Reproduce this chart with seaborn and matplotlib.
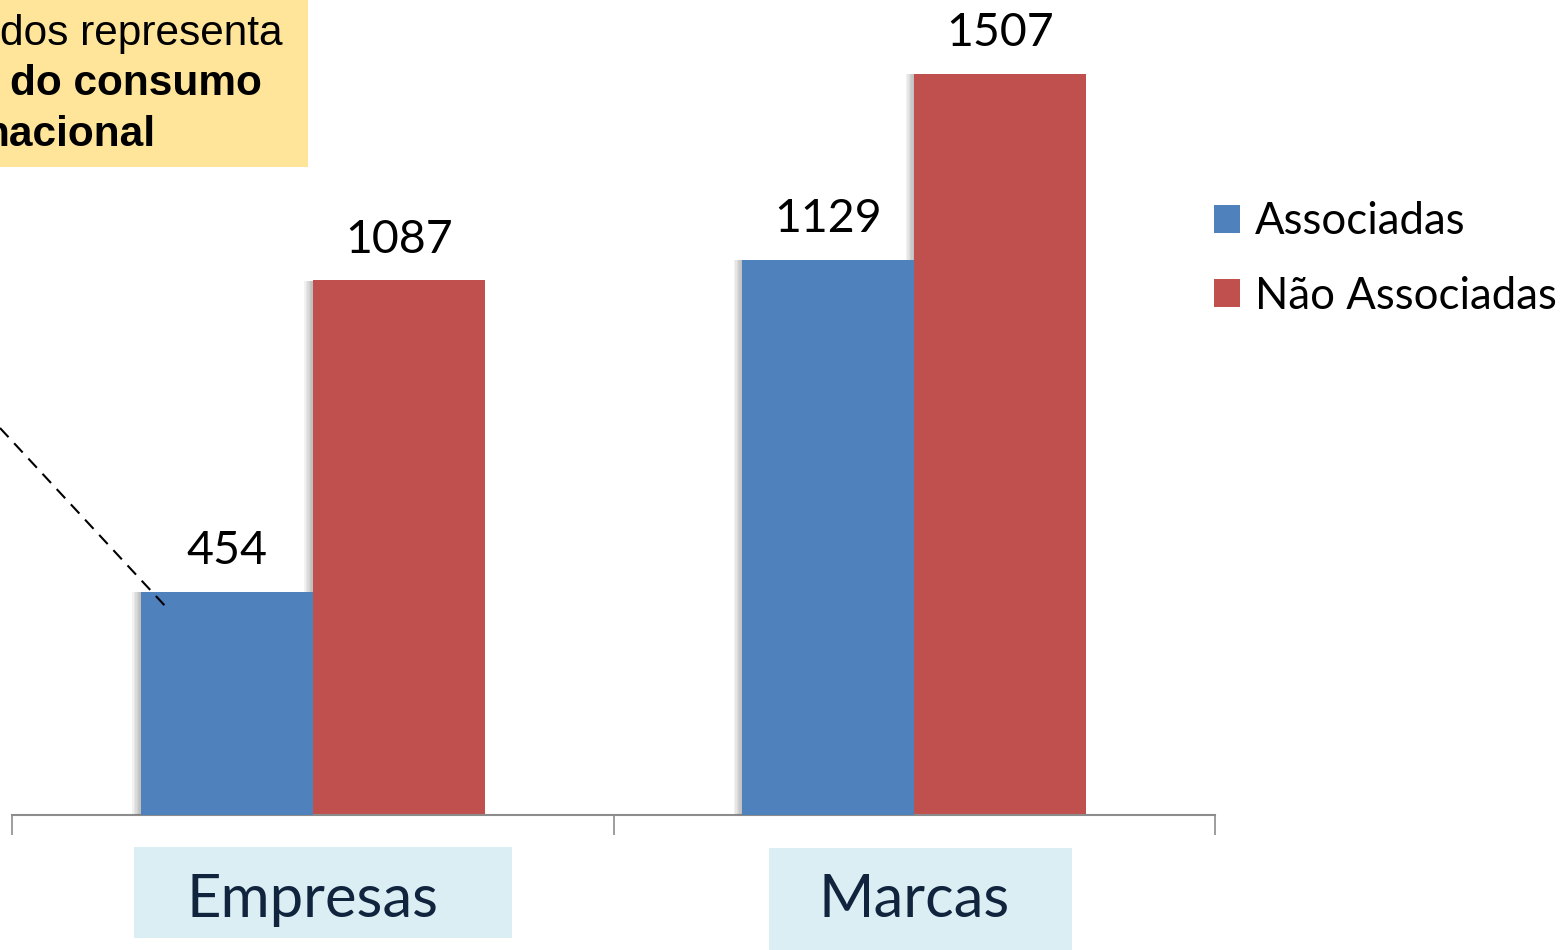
import pandas as pd
import numpy as np
import seaborn as sns
import matplotlib.pyplot as plt
import matplotlib.patheffects as pe
from matplotlib.patches import Rectangle
from matplotlib.lines import Line2D

categorias = ['Empresas', 'Marcas']
series = ['Associadas', 'Não Associadas']
associadas = [454, 1129]
nao_associadas = [1087, 1507]
cores = ['#4F81BD', '#C0504D']

df = pd.DataFrame({
    'categoria': categorias * 2,
    'grupo': [series[0]] * 2 + [series[1]] * 2,
    'valor': associadas + nao_associadas,
})

sns.set_style("white")
plt.rcParams['font.family'] = ['Lato', 'DejaVu Sans']

fig = plt.figure(figsize=(15.6, 9.5), dpi=100)
ax = fig.add_axes([12 / 1560, 135 / 950, 1203 / 1560, 815 / 950])
ax.set_zorder(2)
ax.patch.set_alpha(0)

sns.barplot(data=df, x='categoria', y='valor', hue='grupo', palette=cores,
            width=0.572, saturation=1, linewidth=0, ax=ax)

ax.set_xlim(-0.5, 1.5)
ax.set_ylim(0, 1657)

leg = ax.legend(loc='upper left', bbox_to_anchor=(1196 / 1560, 1 - 184 / 950),
                bbox_transform=fig.transFigure, frameon=False, fontsize=31.5,
                handlelength=0.6, handleheight=0.6, handletextpad=0.35,
                labelspacing=0.76, borderaxespad=0)
for t in leg.get_texts():
    t.set_color('black')

# sombra suave à esquerda das barras
sombra = [pe.withSimplePatchShadow(offset=(-k, -0.5), shadow_rgbFace='#707070', alpha=0.09)
          for k in range(6, 0, -1)]
for i, cont in enumerate(ax.containers):
    for p in cont:
        p.set_path_effects(sombra + [pe.Normal()])
        p.set_zorder(3 - i)
    ax.bar_label(cont, fontsize=33.5, padding=14, color='black')

for s in ['top', 'right', 'left']:
    ax.spines[s].set_visible(False)
ax.spines['bottom'].set_color('#8C8C8C')
ax.spines['bottom'].set_linewidth(1.5)
ax.set_yticks([])
ax.set_xlabel('')
ax.set_ylabel('')
ax.set_xticks([-0.5, 0.5, 1.5], minor=True)
ax.tick_params(axis='x', which='minor', bottom=True, length=14.5, width=1.2,
               color='#8C8C8C', direction='out')
ax.tick_params(axis='x', which='major', bottom=False, length=0, pad=42,
               labelsize=43, labelcolor='#10243E')

# caixas azuis claras por trás dos rótulos das categorias
for x0, y0, w, h in [(134, 847, 378, 91), (769, 848, 303, 102)]:
    fig.patches.append(Rectangle((x0 / 1560, 1 - (y0 + h) / 950), w / 1560, h / 950,
                                 transform=fig.transFigure, facecolor='#DAEEF3',
                                 edgecolor='none', zorder=0))

# caixa amarela de anotação
fig.patches.append(Rectangle((0, 1 - 167 / 950), 308 / 1560, 167 / 950,
                             transform=fig.transFigure, facecolor='#FFE599',
                             edgecolor='none', zorder=5))
fig.text(282 / 1560, 1 - 45 / 950, 'dos representa', ha='right', va='baseline',
         fontsize=30.5, family='Liberation Sans', color='black', zorder=6)
fig.text(262 / 1560, 1 - 95 / 950, 'do consumo', ha='right', va='baseline',
         fontsize=30.5, fontweight='bold', family='Liberation Sans', color='black', zorder=6)
fig.text(155 / 1560, 1 - 146 / 950, 'nacional', ha='right', va='baseline',
         fontsize=30.5, fontweight='bold', family='Liberation Sans', color='black', zorder=6)

fig.lines.append(Line2D([0, 167 / 1560], [1 - 428 / 950, 1 - 608 / 950],
                        transform=fig.transFigure, color='black', lw=1.5,
                        linestyle=(0, (6, 4)), zorder=6))

fig.savefig('out.png', dpi=100)
